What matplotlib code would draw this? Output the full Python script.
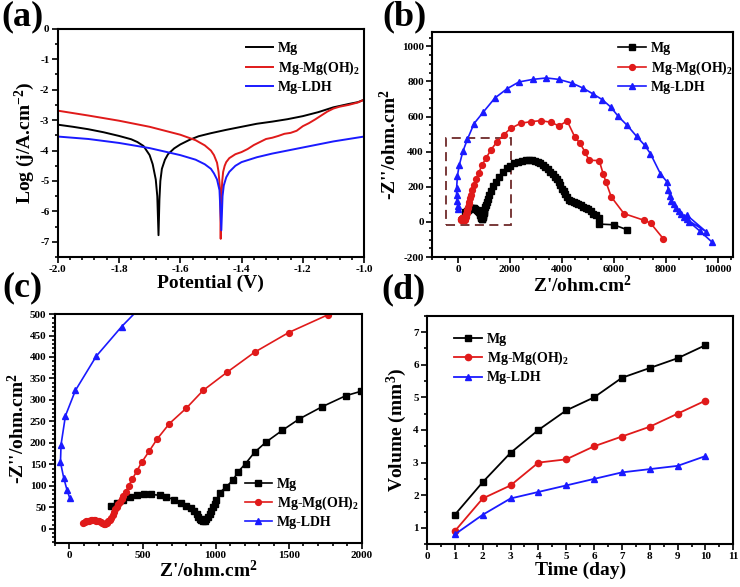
import matplotlib
matplotlib.use("Agg")
import matplotlib.pyplot as plt
from matplotlib.ticker import MultipleLocator, FormatStrFormatter
from matplotlib.patches import Rectangle

plt.rcParams['font.family'] = ['Liberation Serif', 'DejaVu Serif']
plt.rcParams['font.weight'] = 'bold'
plt.rcParams['axes.unicode_minus'] = False
plt.rcParams['mathtext.fontset'] = 'custom'
plt.rcParams['mathtext.rm'] = 'Liberation Serif:bold'
plt.rcParams['mathtext.bf'] = 'Liberation Serif:bold'
plt.rcParams['mathtext.it'] = 'Liberation Serif:bold'
plt.rcParams['mathtext.default'] = 'bf'

names = ['Mg', 'Mg-Mg(OH)$_2$', 'Mg-LDH']
colors = ['black', '#e01a1a', '#1a1aff']
markers = ['s', 'o', '^']

# (a) Tafel curves
mg_E = [-2.0, -1.95, -1.9, -1.85, -1.8, -1.76, -1.74, -1.72, -1.70, -1.69, -1.68, -1.675,
        -1.671, -1.668, -1.665, -1.66, -1.65, -1.64, -1.62, -1.60, -1.57, -1.54, -1.50,
        -1.45, -1.40, -1.35, -1.30, -1.25, -1.20, -1.15, -1.10, -1.05, -1.02, -1.0]
mg_logj = [-3.15, -3.22, -3.30, -3.40, -3.52, -3.63, -3.72, -3.85, -4.15, -4.45, -4.95, -5.5,
           -6.78, -5.6, -5.0, -4.6, -4.3, -4.12, -3.93, -3.80, -3.65, -3.53, -3.43,
           -3.32, -3.22, -3.12, -3.05, -2.97, -2.87, -2.74, -2.58, -2.47, -2.41, -2.33]
oh_E = [-2.0, -1.9, -1.8, -1.7, -1.6, -1.55, -1.52, -1.50, -1.49, -1.48, -1.475, -1.47,
        -1.468, -1.466, -1.463, -1.46, -1.455, -1.45, -1.44, -1.42, -1.40, -1.38, -1.36,
        -1.34, -1.32, -1.30, -1.28, -1.26, -1.24, -1.22, -1.20, -1.18, -1.16, -1.14,
        -1.12, -1.10, -1.08, -1.05, -1.02, -1.0]
oh_logj = [-2.69, -2.85, -3.02, -3.22, -3.48, -3.66, -3.83, -4.0, -4.15, -4.4, -4.7, -5.3,
           -6.9, -5.6, -5.0, -4.7, -4.5, -4.38, -4.25, -4.12, -4.05, -3.95, -3.82,
           -3.72, -3.62, -3.58, -3.52, -3.45, -3.42, -3.35, -3.20, -3.10, -2.98, -2.85,
           -2.72, -2.62, -2.56, -2.50, -2.42, -2.33]
ldh_E = [-2.0, -1.9, -1.8, -1.7, -1.6, -1.55, -1.52, -1.50, -1.49, -1.48, -1.472, -1.466,
         -1.462, -1.458, -1.45, -1.44, -1.42, -1.40, -1.35, -1.30, -1.25, -1.20, -1.15,
         -1.10, -1.05, -1.0]
ldh_logj = [-3.54, -3.62, -3.75, -3.92, -4.15, -4.3, -4.45, -4.6, -4.75, -4.95, -5.3, -6.62,
            -5.5, -5.15, -4.88, -4.7, -4.5, -4.38, -4.22, -4.10, -4.00, -3.90, -3.80,
            -3.70, -3.62, -3.54]

# (b)/(c) Nyquist plots, Z' and -Z'' in ohm.cm2
mg_zr = [284, 323, 364, 414, 459, 509, 561, 618, 664, 716, 760, 800, 834, 855, 870, 882,
         893, 903, 914, 925, 936, 947, 959, 970, 982, 993, 1005, 1027, 1073, 1118, 1152,
         1205, 1266, 1345, 1455, 1573, 1727, 1891, 1993, 2146, 2300, 2465, 2600, 2720,
         2850, 2976, 3080, 3167, 3260, 3359, 3450, 3550, 3650, 3742, 3810, 3870, 3930,
         3998, 4060, 4125, 4190, 4253, 4350, 4445, 4540, 4636, 4730, 4828, 4920, 5019,
         5110, 5211, 5300, 5440, 5440, 6000, 6500]
mg_zi = [54, 60, 67, 74, 78, 82, 80, 78, 74, 68, 61, 54, 49, 42, 34, 28,
         23, 20, 18, 19, 22, 27, 34, 42, 50, 58, 66, 84, 98, 113, 132,
         152, 178, 202, 229, 256, 284, 310, 320, 333, 342, 349, 352, 352,
         351, 349, 342, 333, 325, 314, 300, 286, 272, 257, 243, 229, 210,
         190, 176, 162, 142, 124, 118, 114, 108, 101, 94, 86, 81, 76,
         62, 48, 38, 25, -12, -16, -44]
oh_zr = [95, 105, 115, 125, 135, 145, 155, 165, 175, 185, 195, 205, 215, 225, 235, 245,
         255, 265, 275, 285, 295, 305, 315, 325, 335, 345, 357, 370, 385, 405, 429, 462,
         495, 546, 600, 684, 800, 914, 1080, 1266, 1500, 1766, 2026, 2410, 2795, 3180,
         3564, 3885, 4200, 4487, 4692, 4885, 5038, 5436, 5590, 5692, 5897, 6385, 7154,
         7410, 7900]
oh_zi = [13, 15, 17, 18, 19, 20, 20, 20, 20, 19, 18, 17, 15, 13, 12, 12,
         14, 17, 21, 26, 32, 38, 45, 51, 57, 63, 70, 77, 86, 100, 115, 135,
         155, 181, 209, 245, 281, 322, 365, 411, 457, 498, 533, 562, 571, 577,
         568, 547, 575, 486, 448, 400, 352, 349, 272, 229, 143, 48, 10,
         -6, -95]
ldh_zr = [2, -16, -39, -61, -57, -27, 41, 184, 358, 613, 971, 1418, 1890, 2337, 2886, 3397,
          3870, 4381, 4802, 5185, 5556, 5875, 6169, 6513, 6871, 7190, 7407, 7790, 8040,
          8100, 8150, 8200, 8300, 8400, 8500, 8600, 8700, 8800, 9550, 8800, 8900, 9300, 9760]
ldh_zi = [72, 90, 119, 155, 196, 263, 322, 402, 471, 560, 626, 706, 759, 797, 812, 820,
          812, 791, 763, 730, 696, 655, 601, 550, 488, 436, 389, 275, 229,
          180, 150, 120, 100, 80, 60, 45, 30, 15, -55, 40, 0, -50, -112]

# (d) volume vs time
days = [1, 2, 3, 4, 5, 6, 7, 8, 9, 10]
mg_vol = [1.4, 2.4, 3.3, 4.0, 4.6, 5.0, 5.6, 5.9, 6.2, 6.6]
oh_vol = [0.9, 1.9, 2.3, 3.0, 3.1, 3.5, 3.8, 4.1, 4.5, 4.9]
ldh_vol = [0.8, 1.4, 1.9, 2.1, 2.3, 2.5, 2.7, 2.8, 2.9, 3.2]

LABEL_FS = 14
LEG_FS = 10


def style(ax):
    for s in ax.spines.values():
        s.set_linewidth(1.5)
    ax.tick_params(which='both', direction='out', top=False, right=False,
                   labelsize=8, width=1.2, pad=2)
    ax.tick_params(which='major', length=4)
    ax.tick_params(which='minor', length=2.2)
    for lab in ax.get_xticklabels() + ax.get_yticklabels():
        lab.set_fontweight('bold')


def legend(ax, **kw):
    ax.legend(frameon=False, fontsize=LEG_FS, handlelength=2.0, handletextpad=0.35,
              labelspacing=0.3, borderaxespad=0, **kw)


fig = plt.figure(figsize=(7.4, 5.87), dpi=100)
axa = fig.add_axes([0.078, 0.562, 0.414, 0.389])
axb = fig.add_axes([0.584, 0.562, 0.407, 0.383])
axc = fig.add_axes([0.074, 0.075, 0.415, 0.390])
axd = fig.add_axes([0.577, 0.073, 0.414, 0.389])

# (a)
for E, lj, c, n in zip([mg_E, oh_E, ldh_E], [mg_logj, oh_logj, ldh_logj], colors, names):
    axa.plot(E, lj, color=c, lw=1.4, label=n)
axa.set_xlim(-2.0, -1.0)
axa.set_ylim(-7.5, 0)
axa.xaxis.set_major_locator(MultipleLocator(0.2))
axa.xaxis.set_minor_locator(MultipleLocator(0.04))
axa.xaxis.set_major_formatter(FormatStrFormatter('%.1f'))
axa.yaxis.set_major_locator(MultipleLocator(1))
axa.yaxis.set_minor_locator(MultipleLocator(0.5))
axa.set_xlabel('Potential (V)', fontsize=LABEL_FS, fontweight='bold', labelpad=0)
axa.set_ylabel('Log (j/A.cm$^{-2}$)', fontsize=LABEL_FS, fontweight='bold', labelpad=2)
legend(axa, loc='upper left', bbox_to_anchor=(0.595, 0.965))
style(axa)

# (b) and (c)
for ax in (axb, axc):
    for zr, zi, c, m, n in zip([mg_zr, oh_zr, ldh_zr], [mg_zi, oh_zi, ldh_zi], colors, markers, names):
        ax.plot(zr, zi, color=c, marker=m, ms=4.2, lw=1.2, label=n)

axb.set_xlim(-1000, 10600)
axb.set_ylim(-200, 1080)
axb.xaxis.set_major_locator(MultipleLocator(2000))
axb.xaxis.set_minor_locator(MultipleLocator(500))
axb.yaxis.set_major_locator(MultipleLocator(200))
axb.yaxis.set_minor_locator(MultipleLocator(50))
axb.add_patch(Rectangle((-480, -15), 2520, 495, fill=False, ec='#6e2a2a', lw=1.3, ls=(0, (5, 3))))
axb.set_xlabel("Z'/ohm.cm$^2$", fontsize=LABEL_FS, fontweight='bold', labelpad=0)
axb.set_ylabel("-Z''/ohm.cm$^2$", fontsize=LABEL_FS, fontweight='bold', labelpad=1)
legend(axb, loc='upper left', bbox_to_anchor=(0.6, 0.98))
style(axb)

axc.set_xlim(-100, 2000)
axc.set_ylim(-33, 500)
axc.xaxis.set_major_locator(MultipleLocator(500))
axc.xaxis.set_minor_locator(MultipleLocator(100))
axc.yaxis.set_major_locator(MultipleLocator(50))
axc.yaxis.set_minor_locator(MultipleLocator(10))
axc.set_xlabel("Z'/ohm.cm$^2$", fontsize=LABEL_FS, fontweight='bold', labelpad=0)
axc.set_ylabel("-Z''/ohm.cm$^2$", fontsize=LABEL_FS, fontweight='bold', labelpad=1)
legend(axc, loc='upper left', bbox_to_anchor=(0.6, 0.31))
style(axc)

# (d)
for v, c, m, n in zip([mg_vol, oh_vol, ldh_vol], colors, markers, names):
    axd.plot(days, v, color=c, marker=m, ms=4.5, lw=1.3, label=n)
axd.set_xlim(0, 11)
axd.set_ylim(0.5, 7.5)
axd.xaxis.set_major_locator(MultipleLocator(1))
axd.xaxis.set_minor_locator(MultipleLocator(0.5))
axd.yaxis.set_major_locator(MultipleLocator(1))
axd.yaxis.set_minor_locator(MultipleLocator(0.5))
axd.set_xlabel('Time (day)', fontsize=LABEL_FS, fontweight='bold', labelpad=0)
axd.set_ylabel('Volume (mm$^3$)', fontsize=LABEL_FS, fontweight='bold', labelpad=3)
legend(axd, loc='upper left', bbox_to_anchor=(0.07, 0.95))
style(axd)

for lab, x, y in [('(a)', 0.030, 0.971), ('(b)', 0.546, 0.971), ('(c)', 0.030, 0.509), ('(d)', 0.545, 0.506)]:
    fig.text(x, y, lab, fontsize=26, fontweight='bold', ha='center', va='center')

fig.savefig('out.png', dpi=100)
